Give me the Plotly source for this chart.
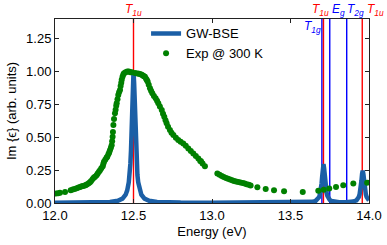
import plotly.graph_objects as go

# GW-BSE spectrum
gw_energy = [12.00, 12.20, 12.30, 12.35, 12.40, 12.43, 12.45, 12.46, 12.47, 12.475,
             12.48, 12.484, 12.488, 12.492, 12.496, 12.50, 12.504, 12.508, 12.512, 12.516,
             12.52, 12.525, 12.53, 12.54, 12.55, 12.57, 12.60, 12.65, 12.70, 12.80,
             13.00, 13.20, 13.40, 13.50, 13.60, 13.64, 13.66, 13.67, 13.68, 13.685,
             13.69, 13.694, 13.698, 13.702, 13.706, 13.71, 13.714, 13.718, 13.722, 13.726,
             13.73, 13.735, 13.74, 13.75, 13.76, 13.78, 13.81, 13.85, 13.88, 13.90,
             13.92, 13.93, 13.935, 13.94, 13.944, 13.948, 13.952, 13.956, 13.96, 13.964,
             13.968, 13.972, 13.976, 13.98, 13.985, 13.99, 14.00]
gw_intensity = [0.001, 0.002, 0.004, 0.008, 0.017, 0.033, 0.063, 0.096, 0.158, 0.213,
                0.297, 0.398, 0.540, 0.725, 0.913, 1.000, 0.913, 0.725, 0.540, 0.398,
                0.297, 0.213, 0.158, 0.096, 0.063, 0.033, 0.017, 0.008, 0.005, 0.003,
                0.002, 0.002, 0.003, 0.004, 0.008, 0.009, 0.016, 0.024, 0.041, 0.055,
                0.078, 0.106, 0.148, 0.204, 0.266, 0.295, 0.266, 0.204, 0.148, 0.106,
                0.078, 0.055, 0.041, 0.024, 0.016, 0.009, 0.006, 0.006, 0.008, 0.011,
                0.020, 0.034, 0.046, 0.065, 0.088, 0.123, 0.170, 0.221, 0.245, 0.221,
                0.170, 0.123, 0.088, 0.065, 0.046, 0.034, 0.020]

exp_energy = [12.006, 12.020, 12.032, 12.064, 12.100, 12.113, 12.125, 12.138, 12.150, 12.160,
              12.170, 12.180, 12.190, 12.197, 12.205, 12.215, 12.223, 12.230, 12.240, 12.248,
              12.255, 12.265, 12.272, 12.280, 12.287, 12.295, 12.304, 12.308, 12.312, 12.320,
              12.328, 12.333, 12.340, 12.345, 12.350, 12.356, 12.361, 12.364, 12.367, 12.369,
              12.372, 12.376, 12.382, 12.386, 12.390, 12.393, 12.398, 12.403, 12.408, 12.414,
              12.418, 12.422, 12.425, 12.430, 12.435, 12.440, 12.450, 12.460, 12.470, 12.480,
              12.490, 12.510, 12.525, 12.535, 12.545, 12.552, 12.560, 12.566, 12.573, 12.580,
              12.585, 12.590, 12.597, 12.605, 12.612, 12.620, 12.630, 12.641, 12.650, 12.658,
              12.668, 12.680, 12.688, 12.696, 12.704, 12.711, 12.720, 12.732, 12.742, 12.754,
              12.770, 12.785, 12.800, 12.817, 12.833, 12.849, 12.865, 12.881, 12.897, 12.913,
              12.925, 12.930, 12.940, 12.955, 13.034, 13.048, 13.062, 13.075, 13.089, 13.102,
              13.115, 13.128, 13.140, 13.153, 13.167, 13.181, 13.196, 13.208, 13.221, 13.234,
              13.246, 13.289, 13.342, 13.395, 13.459, 13.578, 13.677, 13.712, 13.747, 13.790,
              13.836, 13.900, 13.988]
exp_intensity = [0.072, 0.075, 0.078, 0.083, 0.097, 0.102, 0.107, 0.112, 0.118, 0.122,
                 0.127, 0.130, 0.134, 0.137, 0.142, 0.150, 0.158, 0.168, 0.182, 0.194,
                 0.200, 0.211, 0.225, 0.238, 0.250, 0.265, 0.280, 0.298, 0.313, 0.330,
                 0.345, 0.351, 0.370, 0.385, 0.402, 0.420, 0.440, 0.470, 0.504, 0.540,
                 0.593, 0.640, 0.682, 0.710, 0.740, 0.759, 0.790, 0.822, 0.842, 0.860,
                 0.890, 0.915, 0.937, 0.960, 0.978, 0.988, 0.995, 1.000, 1.000, 0.995,
                 0.995, 0.990, 0.985, 0.983, 0.980, 0.975, 0.970, 0.965, 0.960, 0.945,
                 0.935, 0.924, 0.900, 0.873, 0.855, 0.835, 0.815, 0.797, 0.778, 0.759,
                 0.735, 0.708, 0.680, 0.656, 0.630, 0.606, 0.580, 0.555, 0.535, 0.517,
                 0.497, 0.479, 0.466, 0.453, 0.435, 0.415, 0.396, 0.377, 0.358, 0.339,
                 0.320, 0.318, 0.300, 0.280, 0.224, 0.215, 0.206, 0.198, 0.191, 0.184,
                 0.178, 0.173, 0.168, 0.164, 0.160, 0.156, 0.153, 0.148, 0.143, 0.138,
                 0.133, 0.120, 0.107, 0.097, 0.089, 0.084, 0.094, 0.100, 0.110, 0.122,
                 0.135, 0.148, 0.155]

# Mode energies (vertical lines)
mode_energy = [12.50, 13.70, 13.71, 13.75, 13.858, 13.957]
mode_color = ["red", "blue", "red", "blue", "blue", "red"]

# Mode labels: text, x-position (eV), colour, vertical slot
label_text = ["T|1u", "T|1u", "E|g", "T|2g", "T|1u", "T|1g"]
label_x = [12.497, 13.694, 13.803, 13.917, 14.041, 13.640]
label_color = ["red", "red", "blue", "blue", "red", "blue"]
label_row = ["top", "top", "top", "top", "top", "inside"]

x_ticks = [12.0, 12.5, 13.0, 13.5, 14.0]
y_ticks = [0.0, 0.25, 0.5, 0.75, 1.0, 1.25]
X_MIN, X_MAX = 12.0, 14.0

FONT = "Liberation Sans, Arial, Helvetica, sans-serif"

fig = go.Figure()
fig.add_trace(go.Scatter(x=gw_energy, y=gw_intensity, mode="lines", name="GW-BSE",
                         line=dict(color="#1b5fa6", width=4.5)))
fig.add_trace(go.Scatter(x=exp_energy, y=exp_intensity, mode="markers", name="Exp @ 300 K",
                         marker=dict(color="green", size=6, line=dict(width=0))))

for e, c in zip(mode_energy, mode_color):
    fig.add_shape(type="line", x0=e, x1=e, y0=0, y1=1, xref="x", yref="paper",
                  line=dict(color=c, width=1.4), layer="below")

for t, x, c, r in zip(label_text, label_x, label_color, label_row):
    main, sub = t.split("|")
    y = 1.047 if r == "top" else 0.958
    fig.add_annotation(x=(x - X_MIN) / (X_MAX - X_MIN), y=y, xref="paper", yref="paper",
                       showarrow=False,
                       text=f"<i>{main}</i><sub><i>{sub}</i></sub>",
                       font=dict(color=c, size=12, family=FONT),
                       xanchor="center", yanchor="middle")

axis_common = dict(showline=True, linecolor="#222", linewidth=1, mirror="ticks",
                   ticks="inside", ticklen=4, tickwidth=1, tickcolor="#222",
                   showgrid=False, zeroline=False, automargin=False,
                   tickfont=dict(size=13, family=FONT, color="black"))

fig.update_xaxes(range=[X_MIN, X_MAX], tickvals=x_ticks, tickformat=".1f",
                 title=dict(text="Energy (eV)", font=dict(size=13, family=FONT, color="black"),
                            standoff=5), **axis_common)
fig.update_yaxes(range=[0, 1.4], tickvals=y_ticks, tickformat=".2f",
                 title=dict(text="Im {ϵ} (arb. units)", font=dict(size=13, family=FONT, color="black"),
                            standoff=6), **axis_common)

fig.update_layout(width=387, height=245, margin=dict(l=55, r=18, t=19, b=42),
                  paper_bgcolor="white", plot_bgcolor="white",
                  showlegend=True,
                  legend=dict(x=0.29, y=1.003, xanchor="left", yanchor="top",
                              bgcolor="rgba(0,0,0,0)", font=dict(size=13, family=FONT, color="black"),
                              itemwidth=30, tracegroupgap=0))

fig.write_html("out.html", config={"displayModeBar": False},
               post_script="document.body.style.margin='0';document.body.style.padding='0';")
